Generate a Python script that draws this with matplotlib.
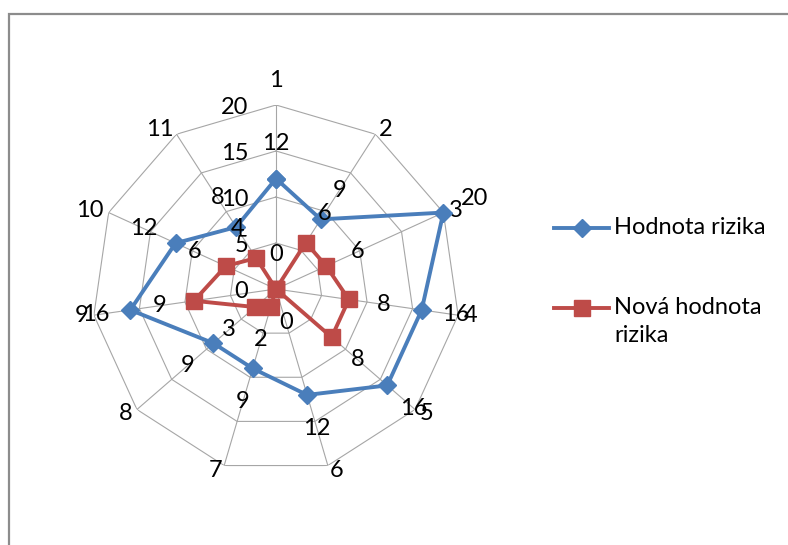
import numpy as np
import matplotlib.pyplot as plt
from matplotlib.lines import Line2D
from matplotlib.patches import Rectangle

# risk values per item, before and after measures
categories = ['1', '2', '3', '4', '5', '6', '7', '8', '9', '10', '11']
hodnota_rizika = [12, 9, 20, 16, 16, 12, 9, 9, 16, 12, 8]
nova_hodnota = [0, 6, 6, 8, 8, 0, 2, 3, 9, 6, 4]
rings = [0, 5, 10, 15, 20]
series_names = ['Hodnota rizika', 'Nová hodnota\nrizika']

plt.rcParams['font.family'] = ['Lato', 'DejaVu Sans']

blue = '#4a7ebb'
red = '#be4b48'
grid_col = '#a6a6a6'
fs = 17

W, H = 788, 545
fig = plt.figure(figsize=(W / 100, H / 100), dpi=100)

# outer chart frame (runs off the right and bottom edges)
fig.add_artist(Rectangle((8.5 / W, -0.05), 1.1, 1 - 13.5 / H + 0.05,
                         transform=fig.transFigure, fill=False,
                         edgecolor='#8c8c8c', lw=1.6))

cx, cy, R = 276, 289, 184
ax = fig.add_axes([(cx - R) / W, (H - cy - R) / H, 2 * R / W, 2 * R / H],
                  projection='polar')
ax.set_theta_zero_location('N')
ax.set_theta_direction(-1)
ax.set_ylim(0, rings[-1])
ax.grid(False)
ax.spines['polar'].set_visible(False)
ax.set_xticks([])
ax.set_yticks([])
ax.patch.set_visible(False)

n = len(categories)
theta = np.arange(n) * 2 * np.pi / n
closed = np.append(theta, theta[0])

# polygon grid and spokes
for r in rings[1:]:
    ax.plot(closed, [r] * (n + 1), color=grid_col, lw=0.8, zorder=1)
for t in theta:
    ax.plot([t, t], [0, rings[-1]], color=grid_col, lw=0.8, zorder=1)

# radial scale labels
for r in rings:
    ax.annotate(str(r), (0, r), xytext=(-20, -2), textcoords='offset points',
                ha='right', va='center', fontsize=fs)

# category labels around the outside
for t, c in zip(theta, categories):
    s, co = np.sin(t), np.cos(t)
    ha = 'left' if s > 0.05 else ('right' if s < -0.05 else 'center')
    va = 'bottom' if co > 0.99 else 'center'
    d = 10 if co > 0.99 else 4
    ax.annotate(c, (t, rings[-1]), xytext=(d * s, d * co),
                textcoords='offset points', ha=ha, va=va, fontsize=fs,
                annotation_clip=False)

ax.plot(closed, hodnota_rizika + hodnota_rizika[:1], color=blue, lw=2.8,
        marker='D', ms=9.5, mec=blue, mfc=blue, clip_on=False, zorder=3)
ax.plot(closed, nova_hodnota + nova_hodnota[:1], color=red, lw=2.8,
        marker='s', ms=12, mec=red, mfc=red, clip_on=False, zorder=4)

# data labels, pushed outward from each point
for vals in (hodnota_rizika, nova_hodnota):
    for t, v in zip(theta, vals):
        ax.annotate(str(v), (t, v), xytext=(25 * np.sin(t), 25 * np.cos(t)),
                    textcoords='offset points', ha='center', va='center',
                    fontsize=fs, zorder=5, annotation_clip=False)

# legend
leg = [(blue, 'D', 9.5, 228), (red, 's', 12, 308)]
for (col, mk, ms, y), name in zip(leg, series_names):
    fy = 1 - y / H
    fig.add_artist(Line2D([554 / W, 581.5 / W, 609 / W], [fy] * 3,
                          transform=fig.transFigure, color=col, lw=2.8,
                          marker=mk, ms=ms, mfc=col, mec=col, markevery=[1]))
    fig.text(614 / W, 1 - (y - 11) / H, name, ha='left', va='top',
             fontsize=fs, linespacing=1.4)

fig.savefig('out.png', dpi=100)
